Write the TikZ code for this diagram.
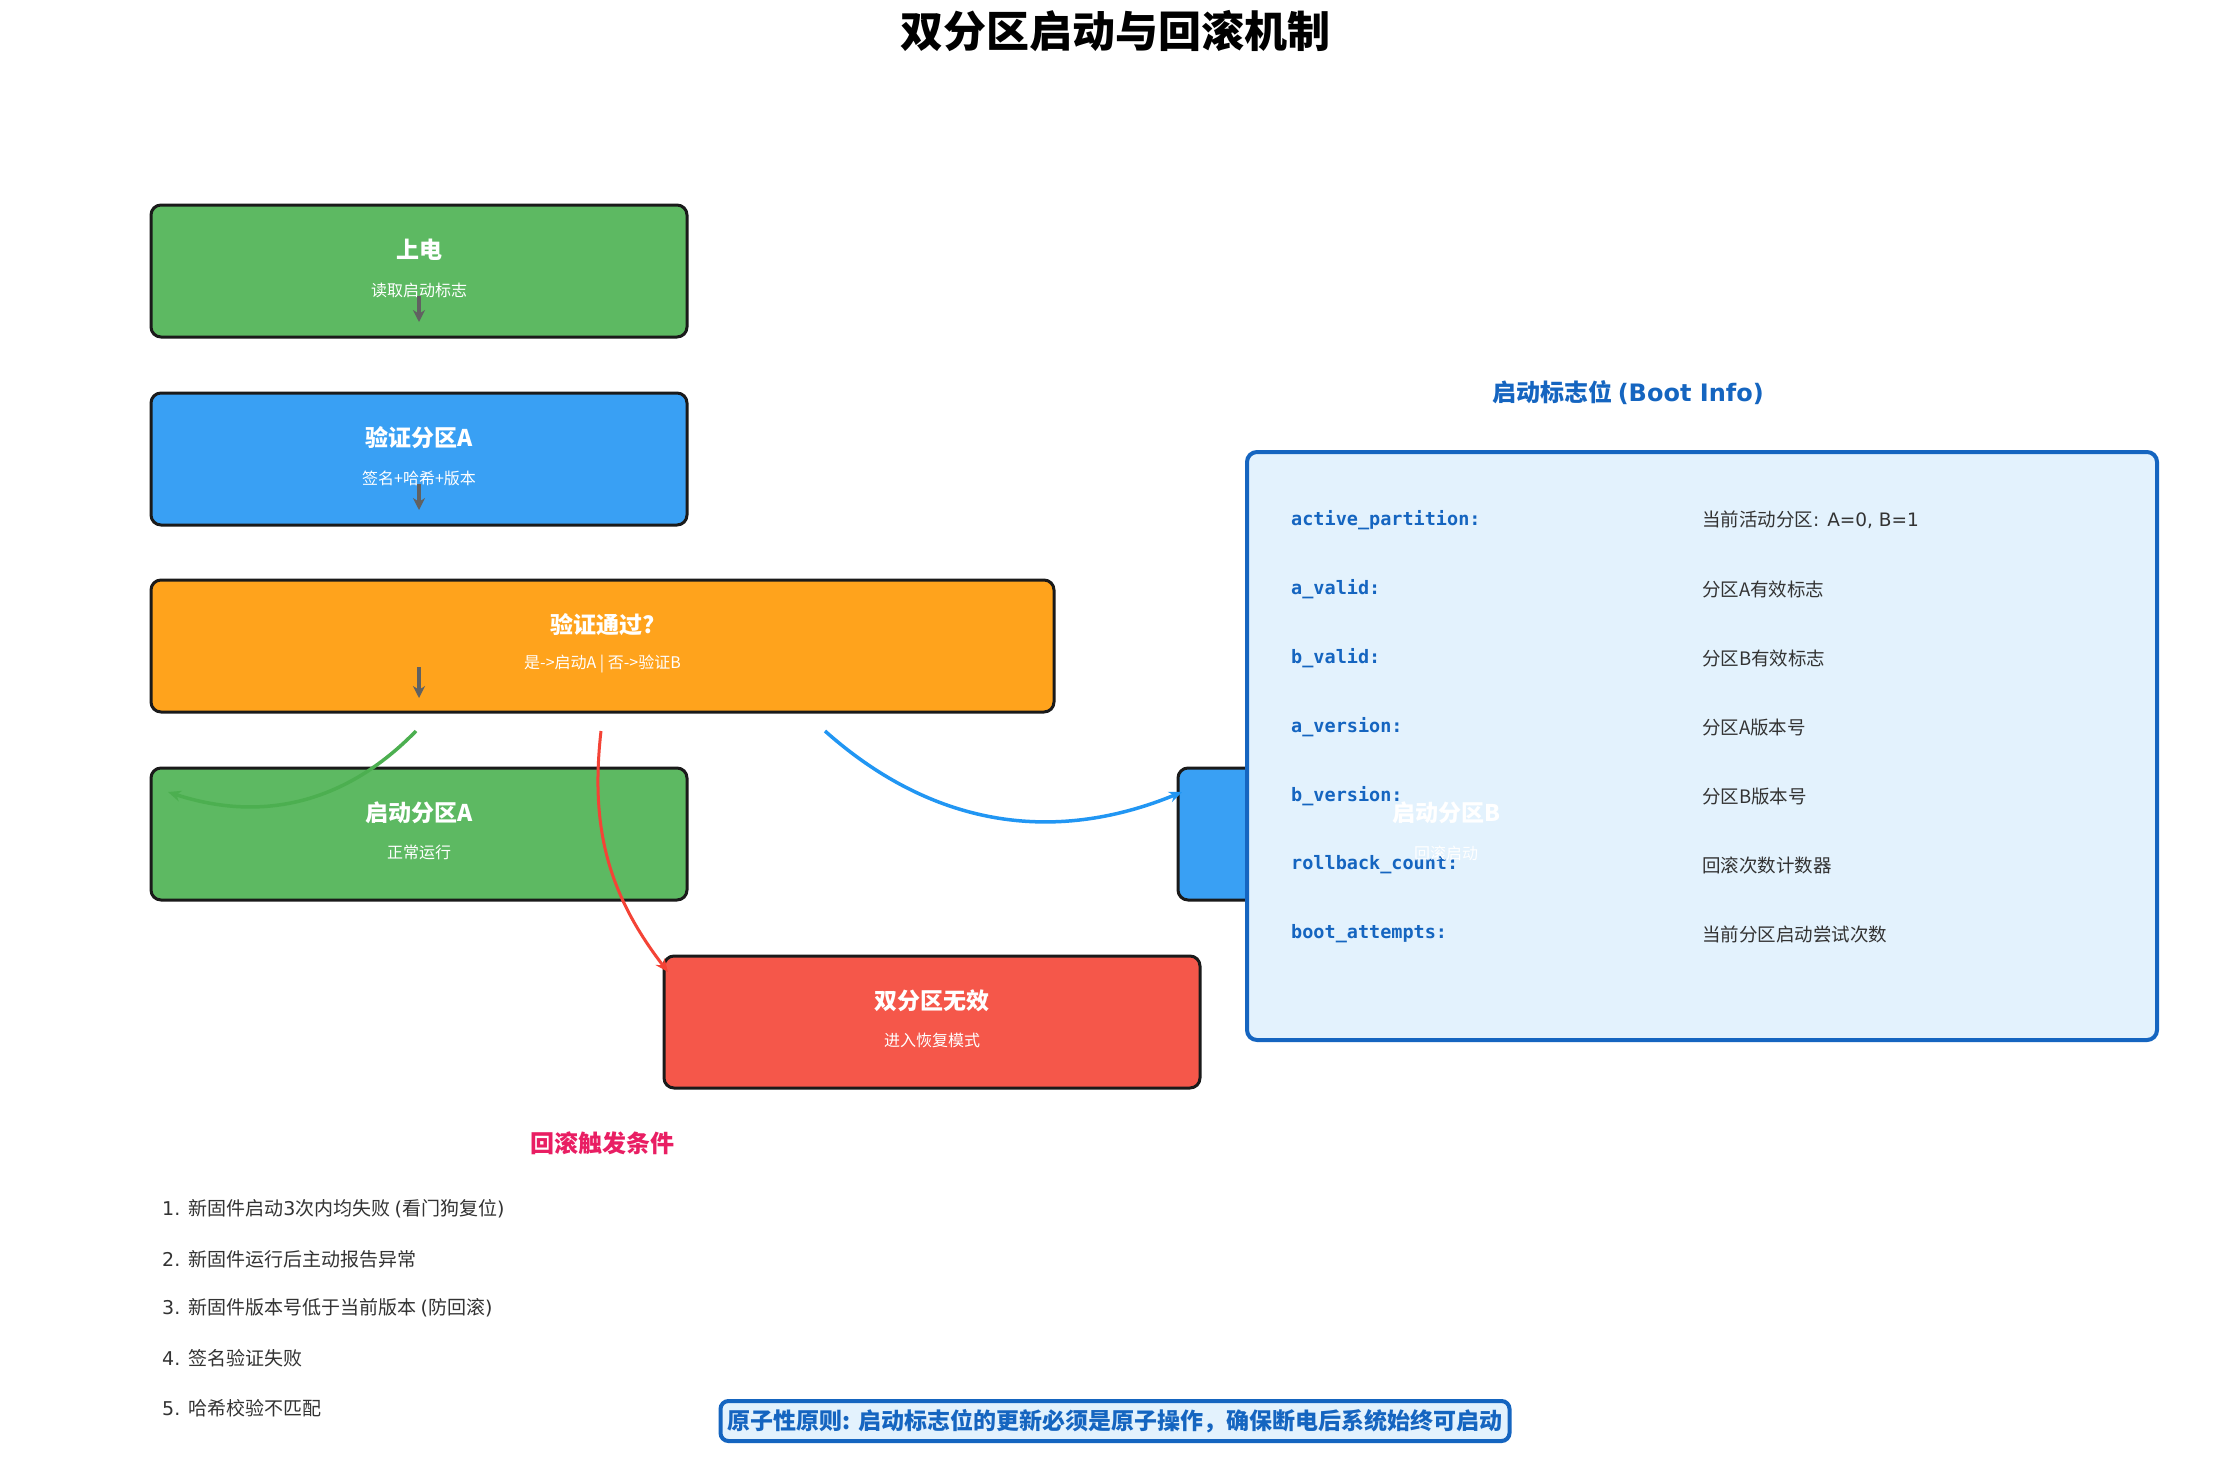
\documentclass[tikz,border=0pt]{standalone}
\usepackage{fontspec}
\setmainfont{Noto Sans CJK SC}
\newfontfamily\keyfont{DejaVu Sans Mono}
\newfontfamily\lat{DejaVu Sans}
\usetikzlibrary{arrows.meta,calc}

\definecolor{okgreen}{HTML}{5DB962}
\definecolor{chkblue}{HTML}{39A0F4}
\definecolor{askorange}{HTML}{FFA31C}
\definecolor{badred}{HTML}{F5574A}
\definecolor{edgeblack}{HTML}{1A1A1A}
\definecolor{arrowgray}{HTML}{616161}
\definecolor{linegreen}{HTML}{4CAF50}
\definecolor{linered}{HTML}{F44336}
\definecolor{lineblue}{HTML}{2196F3}
\definecolor{infoblue}{HTML}{1565C0}
\definecolor{infofill}{HTML}{E3F2FD}
\definecolor{rosered}{HTML}{E91E63}
\definecolor{bodytext}{HTML}{333333}

\newcommand{\pxsize}[1]{\fontsize{#1}{#1}\selectfont}

\tikzset{
  stagebox/.style={draw=edgeblack, line width=3pt, rounded corners=10pt,
    minimum width=536pt, minimum height=132pt, inner sep=0pt},
  boxtitle/.style={text=white, font=\pxsize{23}\bfseries, inner sep=0pt},
  boxsub/.style={text=white, font=\pxsize{16}, inner sep=0pt},
  grayarrow/.style={draw=arrowgray, line width=3.5pt,
    -{Stealth[length=12pt,width=12pt]}},
  flowarrow/.style={line width=3.5pt, -{Stealth[length=13pt,width=11pt]}},
  keytext/.style={anchor=west, text=infoblue, font=\keyfont\pxsize{18.5}\bfseries, inner sep=0pt},
  valtext/.style={anchor=west, text=bodytext, font=\pxsize{18.5}, inner sep=0pt},
  itemtext/.style={anchor=west, text=bodytext, font=\pxsize{19}, inner sep=0pt},
}

\begin{document}
\begin{tikzpicture}[x=1pt, y=-1pt]
\useasboundingbox[fill=white] (0,0) rectangle (2230,1480);

% heading
\node[font=\pxsize{43}\bfseries, text=black, inner sep=0pt] (head) at (1115,31) {双分区启动与回滚机制};

% flow stages
\node[stagebox, fill=okgreen] (pwr) at (419,271) {};
\node[stagebox, fill=chkblue] (vfa) at (419,459) {};
\node[stagebox, fill=askorange, minimum width=903pt] (ok) at (602.5,646) {};
\node[stagebox, fill=okgreen] (bta) at (419,834) {};
\node[stagebox, fill=chkblue] (btb) at (1446,834) {};
\node[stagebox, fill=badred] (dead) at (932,1022) {};

\node[boxtitle] (pwrt) at ($(pwr.center)+(0,-21)$) {上电};
\node[boxsub] (pwrs) at ($(pwr.center)+(0,19)$) {读取启动标志};
\node[boxtitle] (vfat) at ($(vfa.center)+(0,-21)$) {验证分区A};
\node[boxsub] (vfas) at ($(vfa.center)+(0,19)$) {签名+哈希+版本};
\node[boxtitle] (okt) at ($(ok.center)+(0,-21)$) {验证通过?};
\node[boxsub] (oks) at ($(ok.center)+(0,18)$) {是->启动A | 否->验证B};
\node[boxtitle] (btat) at ($(bta.center)+(0,-21)$) {启动分区A};
\node[boxsub] (btas) at ($(bta.center)+(0,18)$) {正常运行};
\node[boxtitle] (deadt) at ($(dead.center)+(0,-21)$) {双分区无效};
\node[boxsub] (deads) at ($(dead.center)+(0,18)$) {进入恢复模式};

% short arrows between stages
\coordinate (g1s) at (419,296); \coordinate (g1e) at (419,322);
\coordinate (g2s) at (419,484); \coordinate (g2e) at (419,510);
\coordinate (g3s) at (419,667); \coordinate (g3e) at (419,698);
\draw[grayarrow] (g1s) -- (g1e);
\draw[grayarrow] (g2s) -- (g2e);
\draw[grayarrow] (g3s) -- (g3e);

% decision branches
\coordinate (yesS) at (416,731); \coordinate (yesE) at (168,792);
\coordinate (noneS) at (601,731); \coordinate (noneE) at (668,972);
\coordinate (noS) at (825,731); \coordinate (noE) at (1182,792);
\draw[flowarrow, draw=linegreen] (yesS) to[bend left=32] (yesE);
\draw[flowarrow, draw=linered, line width=3pt] (noneS) to[bend right=22] (noneE);
\draw[flowarrow, draw=lineblue] (noS) to[bend right=32] (noE);

% boot info panel
\node[text=infoblue, font=\pxsize{24}\bfseries, inner sep=0pt] (infot) at (1628,393) {启动标志位 {\lat (Boot Info)}};
\node[draw=infoblue, fill=infofill, line width=4pt, rounded corners=10pt,
  minimum width=910pt, minimum height=588pt, inner sep=0pt] (info) at (1702,746) {};

\node[keytext] (k1) at (1291,520) {active\_partition:};
\node[keytext] (k2) at (1291,589) {a\_valid:};
\node[keytext] (k3) at (1291,658) {b\_valid:};
\node[keytext] (k4) at (1291,727) {a\_version:};
\node[keytext] (k5) at (1291,796) {b\_version:};
\node[keytext] (k6) at (1291,865) {rollback\_count:};
\node[keytext] (k7) at (1291,934) {boot\_attempts:};
\node[valtext] (v1) at (1702,520) {当前活动分区{\lat : A=0, B=1}};
\node[valtext] (v2) at (1702,589) {分区A有效标志};
\node[valtext] (v3) at (1702,658) {分区B有效标志};
\node[valtext] (v4) at (1702,727) {分区A版本号};
\node[valtext] (v5) at (1702,796) {分区B版本号};
\node[valtext] (v6) at (1702,865) {回滚次数计数器};
\node[valtext] (v7) at (1702,934) {当前分区启动尝试次数};

% partition B labels sit above the panel
\node[boxtitle] (btbt) at ($(btb.center)+(0,-21)$) {启动分区B};
\node[boxsub] (btbs) at ($(btb.center)+(0,19)$) {回滚启动};

% rollback conditions
\node[text=rosered, font=\pxsize{24}\bfseries, inner sep=0pt] (rbt) at (602,1143) {回滚触发条件};
\node[itemtext] (c1) at (162,1209) {{\lat 1. }新固件启动{\lat 3}次内均失败 {\lat (}看门狗复位{\lat )}};
\node[itemtext] (c2) at (162,1259) {{\lat 2. }新固件运行后主动报告异常};
\node[itemtext] (c3) at (162,1308) {{\lat 3. }新固件版本号低于当前版本 {\lat (}防回滚{\lat )}};
\node[itemtext] (c4) at (162,1358) {{\lat 4. }签名验证失败};
\node[itemtext] (c5) at (162,1408) {{\lat 5. }哈希校验不匹配};

% atomicity note
\node[draw=infoblue, fill=infofill, line width=4pt, rounded corners=8pt,
  minimum width=789pt, minimum height=40pt, inner sep=0pt,
  text=infoblue, font=\pxsize{23}\bfseries] (note) at (1115,1421)
  {原子性原则: 启动标志位的更新必须是原子操作，确保断电后系统始终可启动};
\end{tikzpicture}
\end{document}
